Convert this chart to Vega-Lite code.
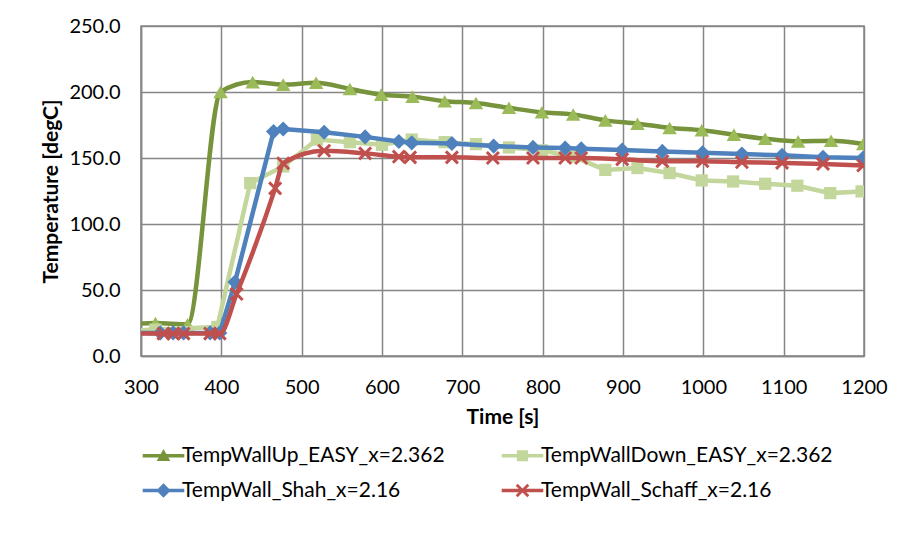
{
  "$schema": "https://vega.github.io/schema/vega-lite/v6.json",
  "width": 723,
  "height": 330,
  "autosize": {"type": "none"},
  "padding": {"left": 141, "top": 26, "right": 39, "bottom": 177},
  "background": "white",
  "config": {
    "font": "Lato",
    "view": {"stroke": "#868686", "strokeWidth": 1.5},
    "axis": {
      "labelFont": "Lato",
      "labelFontSize": 20,
      "labelColor": "#000000",
      "titleFont": "Lato",
      "titleFontSize": 21,
      "titleFontWeight": "bold",
      "titleColor": "#000000",
      "gridColor": "#868686",
      "gridWidth": 1.5,
      "gridOpacity": 1,
      "domainColor": "#868686",
      "domainWidth": 1.5,
      "ticks": false,
      "tickSize": 0
    }
  },
  "data": {
    "values": [
      {"series": "TempWallUp_EASY_x=2.362", "t": 285, "temp": 24},
      {"series": "TempWallUp_EASY_x=2.362", "t": 318, "temp": 25},
      {"series": "TempWallUp_EASY_x=2.362", "t": 358, "temp": 24},
      {"series": "TempWallUp_EASY_x=2.362", "t": 399, "temp": 200},
      {"series": "TempWallUp_EASY_x=2.362", "t": 439, "temp": 207.5},
      {"series": "TempWallUp_EASY_x=2.362", "t": 477, "temp": 205.6},
      {"series": "TempWallUp_EASY_x=2.362", "t": 518, "temp": 207},
      {"series": "TempWallUp_EASY_x=2.362", "t": 560, "temp": 202.3},
      {"series": "TempWallUp_EASY_x=2.362", "t": 599, "temp": 198},
      {"series": "TempWallUp_EASY_x=2.362", "t": 638, "temp": 196.5},
      {"series": "TempWallUp_EASY_x=2.362", "t": 678, "temp": 193},
      {"series": "TempWallUp_EASY_x=2.362", "t": 717, "temp": 191.7},
      {"series": "TempWallUp_EASY_x=2.362", "t": 758, "temp": 188},
      {"series": "TempWallUp_EASY_x=2.362", "t": 799, "temp": 184.6},
      {"series": "TempWallUp_EASY_x=2.362", "t": 838, "temp": 183},
      {"series": "TempWallUp_EASY_x=2.362", "t": 878, "temp": 178.5},
      {"series": "TempWallUp_EASY_x=2.362", "t": 918, "temp": 176},
      {"series": "TempWallUp_EASY_x=2.362", "t": 958, "temp": 172.8},
      {"series": "TempWallUp_EASY_x=2.362", "t": 998, "temp": 171},
      {"series": "TempWallUp_EASY_x=2.362", "t": 1038, "temp": 167.7},
      {"series": "TempWallUp_EASY_x=2.362", "t": 1077, "temp": 164.6},
      {"series": "TempWallUp_EASY_x=2.362", "t": 1118, "temp": 162.6},
      {"series": "TempWallUp_EASY_x=2.362", "t": 1159, "temp": 163},
      {"series": "TempWallUp_EASY_x=2.362", "t": 1199, "temp": 160.6},

      {"series": "TempWallDown_EASY_x=2.362", "t": 285, "temp": 19},
      {"series": "TempWallDown_EASY_x=2.362", "t": 318, "temp": 20},
      {"series": "TempWallDown_EASY_x=2.362", "t": 395, "temp": 22},
      {"series": "TempWallDown_EASY_x=2.362", "t": 436, "temp": 131},
      {"series": "TempWallDown_EASY_x=2.362", "t": 477, "temp": 143.6},
      {"series": "TempWallDown_EASY_x=2.362", "t": 519, "temp": 164},
      {"series": "TempWallDown_EASY_x=2.362", "t": 560, "temp": 162},
      {"series": "TempWallDown_EASY_x=2.362", "t": 600, "temp": 160},
      {"series": "TempWallDown_EASY_x=2.362", "t": 637, "temp": 164},
      {"series": "TempWallDown_EASY_x=2.362", "t": 678, "temp": 162},
      {"series": "TempWallDown_EASY_x=2.362", "t": 717, "temp": 160.5},
      {"series": "TempWallDown_EASY_x=2.362", "t": 758, "temp": 158},
      {"series": "TempWallDown_EASY_x=2.362", "t": 799, "temp": 155.8},
      {"series": "TempWallDown_EASY_x=2.362", "t": 838, "temp": 151},
      {"series": "TempWallDown_EASY_x=2.362", "t": 878, "temp": 141},
      {"series": "TempWallDown_EASY_x=2.362", "t": 918, "temp": 142.4},
      {"series": "TempWallDown_EASY_x=2.362", "t": 958, "temp": 138.6},
      {"series": "TempWallDown_EASY_x=2.362", "t": 998, "temp": 133},
      {"series": "TempWallDown_EASY_x=2.362", "t": 1037, "temp": 132.2},
      {"series": "TempWallDown_EASY_x=2.362", "t": 1077, "temp": 130.5},
      {"series": "TempWallDown_EASY_x=2.362", "t": 1117, "temp": 129},
      {"series": "TempWallDown_EASY_x=2.362", "t": 1158, "temp": 123.4},
      {"series": "TempWallDown_EASY_x=2.362", "t": 1197, "temp": 124.7},

      {"series": "TempWall_Shah_x=2.16", "t": 285, "temp": 17.5},
      {"series": "TempWall_Shah_x=2.16", "t": 324, "temp": 17.5},
      {"series": "TempWall_Shah_x=2.16", "t": 340, "temp": 17.5},
      {"series": "TempWall_Shah_x=2.16", "t": 353, "temp": 17.5},
      {"series": "TempWall_Shah_x=2.16", "t": 386, "temp": 17.5},
      {"series": "TempWall_Shah_x=2.16", "t": 398, "temp": 17.5},
      {"series": "TempWall_Shah_x=2.16", "t": 417, "temp": 56},
      {"series": "TempWall_Shah_x=2.16", "t": 465, "temp": 170},
      {"series": "TempWall_Shah_x=2.16", "t": 477, "temp": 172},
      {"series": "TempWall_Shah_x=2.16", "t": 528, "temp": 169.5},
      {"series": "TempWall_Shah_x=2.16", "t": 579, "temp": 166},
      {"series": "TempWall_Shah_x=2.16", "t": 621, "temp": 162.5},
      {"series": "TempWall_Shah_x=2.16", "t": 637, "temp": 161.5},
      {"series": "TempWall_Shah_x=2.16", "t": 687, "temp": 161},
      {"series": "TempWall_Shah_x=2.16", "t": 739, "temp": 159},
      {"series": "TempWall_Shah_x=2.16", "t": 788, "temp": 158},
      {"series": "TempWall_Shah_x=2.16", "t": 828, "temp": 157.5},
      {"series": "TempWall_Shah_x=2.16", "t": 848, "temp": 157},
      {"series": "TempWall_Shah_x=2.16", "t": 899, "temp": 156},
      {"series": "TempWall_Shah_x=2.16", "t": 949, "temp": 155},
      {"series": "TempWall_Shah_x=2.16", "t": 999, "temp": 154},
      {"series": "TempWall_Shah_x=2.16", "t": 1048, "temp": 153},
      {"series": "TempWall_Shah_x=2.16", "t": 1098, "temp": 152},
      {"series": "TempWall_Shah_x=2.16", "t": 1149, "temp": 150.5},
      {"series": "TempWall_Shah_x=2.16", "t": 1199, "temp": 150},

      {"series": "TempWall_Schaff_x=2.16", "t": 285, "temp": 17},
      {"series": "TempWall_Schaff_x=2.16", "t": 328, "temp": 17},
      {"series": "TempWall_Schaff_x=2.16", "t": 340, "temp": 17},
      {"series": "TempWall_Schaff_x=2.16", "t": 353, "temp": 17},
      {"series": "TempWall_Schaff_x=2.16", "t": 386, "temp": 17},
      {"series": "TempWall_Schaff_x=2.16", "t": 398, "temp": 17},
      {"series": "TempWall_Schaff_x=2.16", "t": 419, "temp": 47},
      {"series": "TempWall_Schaff_x=2.16", "t": 467, "temp": 127},
      {"series": "TempWall_Schaff_x=2.16", "t": 477, "temp": 146},
      {"series": "TempWall_Schaff_x=2.16", "t": 528, "temp": 155.5},
      {"series": "TempWall_Schaff_x=2.16", "t": 579, "temp": 153.5},
      {"series": "TempWall_Schaff_x=2.16", "t": 621, "temp": 151},
      {"series": "TempWall_Schaff_x=2.16", "t": 635, "temp": 150.5},
      {"series": "TempWall_Schaff_x=2.16", "t": 687, "temp": 150.5},
      {"series": "TempWall_Schaff_x=2.16", "t": 738, "temp": 150},
      {"series": "TempWall_Schaff_x=2.16", "t": 788, "temp": 150},
      {"series": "TempWall_Schaff_x=2.16", "t": 828, "temp": 150},
      {"series": "TempWall_Schaff_x=2.16", "t": 848, "temp": 150},
      {"series": "TempWall_Schaff_x=2.16", "t": 899, "temp": 149},
      {"series": "TempWall_Schaff_x=2.16", "t": 949, "temp": 147.5},
      {"series": "TempWall_Schaff_x=2.16", "t": 999, "temp": 147.5},
      {"series": "TempWall_Schaff_x=2.16", "t": 1048, "temp": 146.8},
      {"series": "TempWall_Schaff_x=2.16", "t": 1098, "temp": 146.3},
      {"series": "TempWall_Schaff_x=2.16", "t": 1149, "temp": 145.5},
      {"series": "TempWall_Schaff_x=2.16", "t": 1199, "temp": 144.3}
    ]
  },
  "encoding": {
    "x": {
      "field": "t",
      "type": "quantitative",
      "scale": {"domain": [300, 1200], "nice": false, "zero": false},
      "axis": {
        "title": "Time [s]",
        "values": [300, 400, 500, 600, 700, 800, 900, 1000, 1100, 1200],
        "format": "d",
        "labelPadding": 21,
        "titlePadding": 9,
        "labelFlush": false,
        "labelOverlap": false
      }
    },
    "y": {
      "field": "temp",
      "type": "quantitative",
      "scale": {"domain": [0, 250], "nice": false},
      "axis": {
        "title": "Temperature [degC]",
        "values": [0, 50, 100, 150, 200, 250],
        "format": ".1f",
        "labelPadding": 21,
        "titlePadding": 7,
        "labelOverlap": false
      }
    }
  },
  "layer": [
    {
      "transform": [{"filter": {"field": "series", "equal": "TempWallUp_EASY_x=2.362"}}],
      "mark": {"type": "line", "interpolate": "monotone", "color": "#77933C", "strokeWidth": 4.5, "clip": true}
    },
    {
      "transform": [{"filter": {"field": "series", "equal": "TempWallUp_EASY_x=2.362"}}],
      "mark": {"type": "point", "shape": "triangle-up", "filled": true, "color": "#9BBB59", "opacity": 1, "size": 210, "clip": true}
    },
    {
      "transform": [{"filter": {"field": "series", "equal": "TempWallDown_EASY_x=2.362"}}],
      "mark": {"type": "line", "interpolate": "linear", "color": "#C3D69B", "strokeWidth": 4.5, "clip": true}
    },
    {
      "transform": [{"filter": {"field": "series", "equal": "TempWallDown_EASY_x=2.362"}}],
      "mark": {"type": "point", "shape": "square", "filled": true, "color": "#C3D69B", "opacity": 1, "size": 150, "clip": true}
    },
    {
      "transform": [{"filter": {"field": "series", "equal": "TempWall_Shah_x=2.16"}}],
      "mark": {"type": "line", "interpolate": "linear", "color": "#4F81BD", "strokeWidth": 4.5, "clip": true}
    },
    {
      "transform": [{"filter": {"field": "series", "equal": "TempWall_Shah_x=2.16"}}],
      "mark": {"type": "point", "shape": "diamond", "filled": true, "color": "#4F81BD", "opacity": 1, "size": 230, "clip": true}
    },
    {
      "transform": [{"filter": {"field": "series", "equal": "TempWall_Schaff_x=2.16"}}],
      "mark": {"type": "line", "interpolate": "monotone", "color": "#C0504D", "strokeWidth": 4.5, "clip": true}
    },
    {
      "transform": [{"filter": {"field": "series", "equal": "TempWall_Schaff_x=2.16"}}],
      "mark": {"type": "point", "shape": "M-1,-0.7L-0.7,-1L0,-0.3L0.7,-1L1,-0.7L0.3,0L1,0.7L0.7,1L0,0.3L-0.7,1L-1,0.7L-0.3,0Z", "filled": true, "color": "#C0504D", "opacity": 1, "size": 200, "clip": true}
    },
    {
      "transform": [{"filter": {"field": "t", "lt": 0}}],
      "mark": {"type": "point", "filled": true, "opacity": 1, "size": 256},
      "encoding": {
        "color": {
          "field": "series",
          "type": "nominal",
          "scale": {
            "domain": ["TempWallUp_EASY_x=2.362", "TempWallDown_EASY_x=2.362", "TempWall_Shah_x=2.16", "TempWall_Schaff_x=2.16"],
            "range": ["#77933C", "#C3D69B", "#4F81BD", "#C0504D"]
          },
          "legend": {
            "title": null,
            "orient": "none",
            "direction": "horizontal",
            "legendX": 12,
            "legendY": 419,
            "columns": 2,
            "columnPadding": 56,
            "rowPadding": 13,
            "symbolSize": 256,
            "symbolStrokeWidth": 0,
            "symbolOffset": 0,
            "labelOffset": 8,
            "labelFont": "Lato",
            "labelFontSize": 21,
            "labelColor": "#000000",
            "labelLimit": 400,
            "padding": 0
          }
        },
        "shape": {
          "field": "series",
          "type": "nominal",
          "scale": {
            "domain": ["TempWallUp_EASY_x=2.362", "TempWallDown_EASY_x=2.362", "TempWall_Shah_x=2.16", "TempWall_Schaff_x=2.16"],
            "range": [
              "M-2.6,-0.22H2.6V0.22H-2.6Z M0,-0.85L0.85,0.65H-0.85Z",
              "M-2.6,-0.22H2.6V0.22H-2.6Z M-0.7,-0.7H0.7V0.7H-0.7Z",
              "M-2.6,-0.22H2.6V0.22H-2.6Z M0,-0.9L0.9,0L0,0.9L-0.9,0Z",
              "M-2.6,-0.22H2.6V0.22H-2.6Z M-0.85,-0.6L-0.6,-0.85L0,-0.25L0.6,-0.85L0.85,-0.6L0.25,0L0.85,0.6L0.6,0.85L0,0.25L-0.6,0.85L-0.85,0.6L-0.25,0Z"
            ]
          },
          "legend": {
            "title": null,
            "orient": "none",
            "direction": "horizontal",
            "legendX": 12,
            "legendY": 419,
            "columns": 2,
            "columnPadding": 56,
            "rowPadding": 13,
            "symbolSize": 256,
            "symbolStrokeWidth": 0,
            "symbolOffset": 0,
            "labelOffset": 8,
            "labelFont": "Lato",
            "labelFontSize": 21,
            "labelColor": "#000000",
            "labelLimit": 400,
            "padding": 0
          }
        }
      }
    }
  ]
}
